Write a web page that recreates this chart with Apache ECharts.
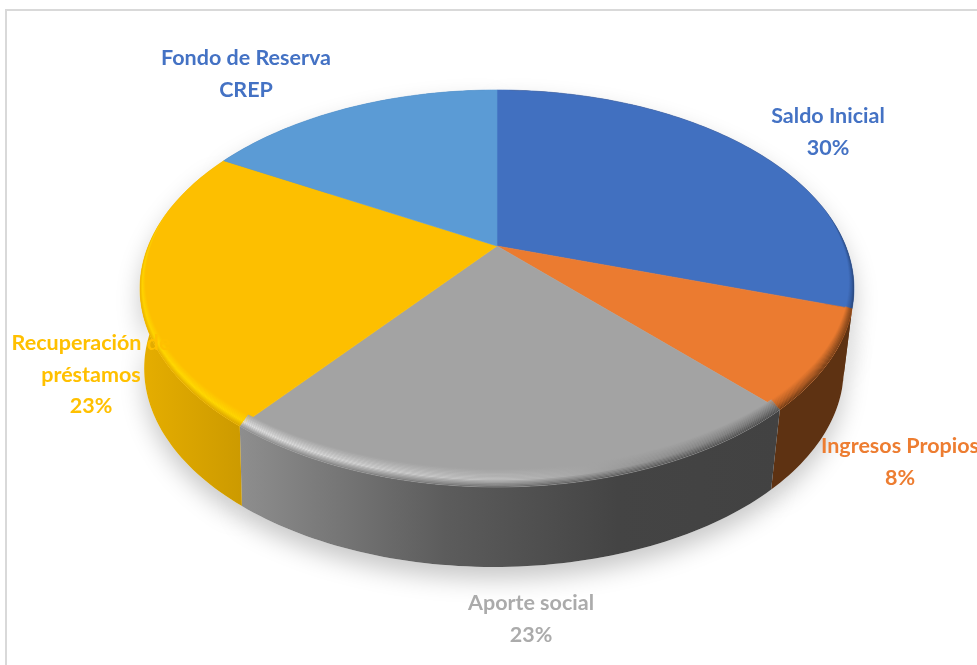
<!DOCTYPE html>
<html><head><meta charset="utf-8">
<style>html,body{margin:0;padding:0;background:#fff}#c{width:977px;height:665px}</style>
<script src="https://cdn.jsdelivr.net/npm/echarts@6/dist/echarts.min.js"></script>
</head><body><div id="c"></div>
<script>
const categories = ['Saldo Inicial','Ingresos Propios','Aporte social','Recuperación de\npréstamos','Fondo de Reserva\nCREP'];
const values = [30, 8, 22.5, 22.8, 16.7];
const showPercent = [true, true, true, true, false];
const topColors = ['#4170C0','#EB7B30','#A3A3A3','#FDBF00','#5B9BD5'];
const labelColors = ['#4472C4','#ED7D31','#ABABAB','#FFC000','#4472C4'];
const wallStops = [
  [[0,'#5e3212'],[1,'#5e3212']],
  [[0,'#5e3212'],[1,'#5e3212']],
  [[0,'#424242'],[0.3,'#444444'],[0.62,'#5c5c5c'],[1,'#8e8e8e']],
  [[0,'#cc9a00'],[1,'#e6ae00']],
  [[0,'#3a6a96'],[1,'#3a6a96']]
];
// bevel middle colour: left, centre, right of each slice; and rim colour: left, right
const bevelHi = [
  ['#2f5597','#2f5597','#2f5597'],
  ['#b25c22','#a05420','#8a4a1c'],
  ['#e4e4e4','#bcbcbc','#6c6c6c'],
  ['#ffdc00','#ffdc00','#ffd800'],
  ['#5B9BD5','#5B9BD5','#5B9BD5']
];
const bevelRim = [
  ['#1f3864','#1f3864'],
  ['#5e3212','#5e3212'],
  ['#8e8e8e','#444444'],
  ['#e6ae00','#d4a000'],
  ['#5B9BD5','#5B9BD5']
];
const labelAnchors = [[828,132],[900,462],[531,619],[91,375],[246,74]];

// perspective projection of the pie disc
const CX=497, CY=246, RX=348.7, RY=189.4, K=0.214, DEPTH=80, BOTTOM_SCALE=0.98, BOTTOM_DX=-3;
const total = values.reduce((a,b)=>a+b,0);
function angles(i){
  let s=0; for(let j=0;j<i;j++) s+=values[j];
  return [s/total*Math.PI*2,(s+values[i])/total*Math.PI*2];
}
function proj(t,scale,dy,dx){
  const u=Math.sin(t), v=-Math.cos(t), w=1-K*v;
  return [CX+(dx||0)+scale*RX*u/w, CY+dy+RY*v/w];
}
function arc(a0,a1,fn){
  const n=Math.max(4,Math.ceil((a1-a0)/0.02)), pts=[];
  for(let k=0;k<=n;k++) pts.push(fn(a0+(a1-a0)*k/n));
  return pts;
}
function wallPts(i){
  const [a,b]=angles(i);
  const upper=arc(a,b,t=>proj(t,1,0));
  const lower=arc(a,b,t=>proj(t,BOTTOM_SCALE,DEPTH,BOTTOM_DX)).reverse();
  return upper.concat(lower);
}
function xRange(pts){
  const xs=pts.map(p=>p[0]);
  return [Math.min(...xs),Math.max(...xs)];
}
function bevelThickness(t){
  const v=-Math.cos(t);
  return 18*Math.max(0,v+0.2)/1.2;
}
function lerpHex(c0,c1,f){
  const p=c=>[1,3,5].map(i=>parseInt(c.substr(i,2),16));
  const a=p(c0),b=p(c1);
  const h=x=>Math.round(x).toString(16).padStart(2,'0');
  return '#'+a.map((x,i)=>h(x+(b[i]-x)*f)).join('');
}
const chart=echarts.init(document.getElementById('c'),null,{renderer:'canvas'});
const seriesData=values.map((v,i)=>({value:[i,v],name:categories[i]}));
const shadowSeries={type:'custom',silent:true,coordinateSystem:'none',data:seriesData,z:1,
  renderItem(p,api){
    const i=api.value(0);
    return {type:'polygon',shape:{points:wallPts(i)},style:{fill:'#ffffff',shadowColor:'rgba(0,0,0,0.22)',shadowBlur:24,shadowOffsetY:12}};
  }};
const wallSeries={type:'custom',silent:true,coordinateSystem:'none',data:seriesData,z:2,
  renderItem(p,api){
    const i=api.value(0), pts=wallPts(i), r=xRange(pts);
    const fill=new echarts.graphic.LinearGradient(r[1],0,r[0],0,wallStops[i].map(s=>({offset:s[0],color:s[1]})),true);
    return {type:'polygon',shape:{points:pts},style:{fill}};
  }};
const topSeries={type:'custom',silent:true,coordinateSystem:'none',data:seriesData,z:3,
  renderItem(p,api){
    const i=api.value(0), [a,b]=angles(i);
    const pts=[[CX,CY]].concat(arc(a,b,t=>proj(t,1,0)));
    return {type:'polygon',shape:{points:pts},style:{fill:topColors[i],stroke:topColors[i],lineWidth:0.6}};
  }};
const STRIPS=14;
const bevelSeries={type:'custom',silent:true,coordinateSystem:'none',data:seriesData,z:4,
  renderItem(p,api){
    const i=api.value(0), [a,b]=angles(i), children=[];
    const ring=arc(a,b,t=>proj(t,1,0)), r=xRange(ring);
    for(let s=0;s<STRIPS;s++){
      const f0=s/STRIPS, f1=(s+1)/STRIPS, f=(f0+f1)/2;
      const off=(t,g)=>{const q=proj(t,1,0);const d=bevelThickness(t)*(1-g);return [q[0]-d*Math.sin(t)*0.9,q[1]+d*Math.cos(t)];};
      const poly=arc(a,b,t=>off(t,f0)).concat(arc(a,b,t=>off(t,f1)).reverse());
      const colAt=(hi,rim)=> f<0.6 ? lerpHex(topColors[i],hi,f/0.6) : lerpHex(hi,rim,(f-0.6)/0.4);
      const H=bevelHi[i], R=bevelRim[i];
      const fill=new echarts.graphic.LinearGradient(r[0],0,r[1],0,[
        {offset:0,color:colAt(H[0],R[0])},
        {offset:0.5,color:colAt(H[1],lerpHex(R[0],R[1],0.5))},
        {offset:1,color:colAt(H[2],R[1])}],true);
      children.push({type:'polygon',shape:{points:poly},style:{fill,stroke:null}});
    }
    return {type:'group',children};
  }};
const labels=categories.map((c,i)=>({
  type:'text',z:20,silent:true,x:labelAnchors[i][0],y:labelAnchors[i][1],
  style:{text:showPercent[i]?c+'\n'+Math.round(values[i])+'%':c,
    fill:labelColors[i],align:'center',verticalAlign:'middle',
    font:'bold 21.5px Lato, "Open Sans", sans-serif',lineHeight:31.5}
}));
const frame={type:'rect',z:0,silent:true,shape:{x:6,y:10,width:1000,height:700},
  style:{fill:'#ffffff',stroke:'#d9d9d9',lineWidth:2}};
chart.setOption({animation:false,backgroundColor:'#ffffff',
  graphic:{elements:[frame].concat(labels)},
  series:[shadowSeries,wallSeries,topSeries,bevelSeries]});
</script></body></html>
